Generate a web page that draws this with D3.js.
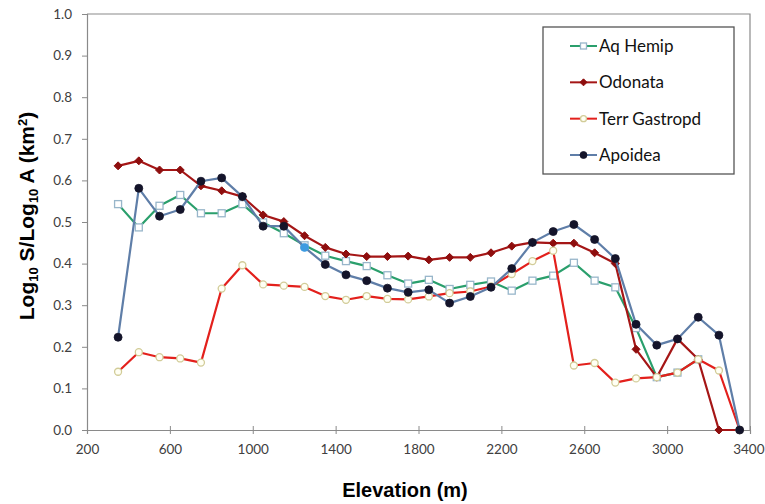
<!DOCTYPE html>
<html>
<head>
<meta charset="utf-8">
<script src="https://cdn.jsdelivr.net/npm/d3@7"></script>
<style>
  body { margin: 0; background: #fff; }
  svg { display: block; }
</style>
</head>
<body>
<div id="chart"></div>
<script>
// elevation band mid-points (m)
const elevation = [350, 450, 550, 650, 750, 850, 950, 1050, 1150, 1250, 1350, 1450, 1550, 1650, 1750,
  1850, 1950, 2050, 2150, 2250, 2350, 2450, 2550, 2650, 2750, 2850, 2950, 3050, 3150, 3250, 3350];

const aqHemip = [0.543, 0.487, 0.539, 0.565, 0.521, 0.521, 0.543, 0.499, 0.473, 0.444, 0.419, 0.406, 0.394, 0.372, 0.352,
  0.361, 0.339, 0.349, 0.357, 0.335, 0.359, 0.371, 0.402, 0.359, 0.343, 0.245, 0.127, 0.138, 0.170, null, null];
const odonata = [0.635, 0.647, 0.625, 0.625, 0.587, 0.575, 0.561, 0.517, 0.501, 0.467, 0.439, 0.423, 0.417, 0.417, 0.418,
  0.409, 0.415, 0.415, 0.426, 0.442, 0.451, 0.449, 0.449, 0.426, 0.400, 0.194, 0.127, 0.219, 0.170, 0, 0];
const terrGastropod = [0.140, 0.187, 0.175, 0.172, 0.162, 0.340, 0.396, 0.350, 0.347, 0.344, 0.322, 0.313, 0.322, 0.315, 0.314,
  0.321, 0.329, 0.333, 0.345, 0.375, 0.406, 0.431, 0.155, 0.161, 0.114, 0.124, 0.127, 0.138, 0.170, 0.143, 0];
const apoidea = [0.223, 0.581, 0.514, 0.530, 0.598, 0.606, 0.561, 0.490, 0.490, 0.439, 0.398, 0.373, 0.359, 0.341, 0.331,
  0.337, 0.305, 0.321, 0.343, 0.388, 0.451, 0.477, 0.494, 0.458, 0.412, 0.254, 0.204, 0.219, 0.271, 0.228, 0];

const seriesNames = ['Aq Hemip', 'Odonata', 'Terr Gastropd', 'Apoidea'];
const seriesValues = [aqHemip, odonata, terrGastropod, apoidea];
const highlightedPoint = { series: 'Apoidea', elevation: 1250 }; // the one light-blue dot

const xTicks = [200, 600, 1000, 1400, 1800, 2200, 2600, 3000, 3400];
const yTicks = [0, 0.1, 0.2, 0.3, 0.4, 0.5, 0.6, 0.7, 0.8, 0.9, 1.0];

// look of each series, same order as seriesNames
const styles = [
  { line: '#2a9f6c', marker: 'square', fill: '#ffffff', stroke: '#98b6ca', size: 7 },
  { line: '#a51616', marker: 'diamond', fill: '#8e0e0e', stroke: '#8e0e0e', size: 8 },
  { line: '#e3201c', marker: 'circle', fill: '#fffff4', stroke: '#d2cc98', size: 7 },
  { line: '#5f7ea8', marker: 'dot', fill: '#14142a', stroke: '#14142a', size: 8 },
];

const width = 765, height = 504;
const plot = { left: 87, right: 750, top: 14, bottom: 430 };
const labelFont = 'Lato, "Open Sans", sans-serif';
const titleFont = 'Arial, "Liberation Sans", sans-serif';

const svg = d3.select('#chart').append('svg').attr('width', width).attr('height', height);

const x = d3.scaleLinear().domain([200, 3400]).range([plot.left, plot.right]);
const y = d3.scaleLinear().domain([0, 1]).range([plot.bottom, plot.top]);

// plot frame: top and right edges
svg.append('path')
  .attr('d', `M${plot.left},${plot.top}H${plot.right}V${plot.bottom}`)
  .attr('fill', 'none').attr('stroke', '#8a8a8a').attr('stroke-width', 1.2);

// axes
const xAxis = svg.append('g')
  .attr('transform', `translate(0,${plot.bottom})`)
  .call(d3.axisBottom(x).tickValues(xTicks).tickSize(4).tickPadding(10).tickFormat(d3.format('d')));
const yAxis = svg.append('g')
  .attr('transform', `translate(${plot.left},0)`)
  .call(d3.axisLeft(y).tickValues(yTicks).tickSize(5).tickPadding(10).tickFormat(d3.format('.1f')));

[xAxis, yAxis].forEach(ax => {
  ax.select('.domain').attr('stroke', '#8a8a8a').attr('stroke-width', 1.2);
  ax.selectAll('.tick line').attr('stroke', '#8a8a8a');
  ax.selectAll('.tick text').attr('fill', '#404040').style('font-family', labelFont).style('font-size', '13.5px');
});
// ticks on the x axis cross the axis line
xAxis.selectAll('.tick line').attr('y1', -4);
// keep the last label inside the picture
xAxis.selectAll('.tick text').filter(d => d === 3400).attr('text-anchor', 'end').attr('x', 14);

// axis titles
svg.append('text')
  .attr('x', 405).attr('y', 497)
  .attr('text-anchor', 'middle')
  .style('font-family', titleFont)
  .style('font-size', '20px').style('font-weight', 'bold')
  .text('Elevation (m)');

const yTitle = svg.append('text')
  .attr('transform', 'translate(34,216) rotate(-90)')
  .attr('text-anchor', 'middle')
  .style('font-family', titleFont)
  .style('font-size', '21px').style('font-weight', 'bold');
yTitle.append('tspan').text('Log');
yTitle.append('tspan').attr('dy', 4).style('font-size', '13px').text('10');
yTitle.append('tspan').attr('dy', -4).text(' S/Log');
yTitle.append('tspan').attr('dy', 4).style('font-size', '13px').text('10');
yTitle.append('tspan').attr('dy', -4).text(' A (km');
yTitle.append('tspan').attr('dy', -7).style('font-size', '13px').text('2');
yTitle.append('tspan').attr('dy', 7).text(')');

// drawMarker()
// appends one marker of the given style centred on (cx, cy)
function drawMarker(g, st, cx, cy, fillOverride) {
  const s = st.size;
  const fill = fillOverride || st.fill;
  if (st.marker === 'square') {
    g.append('rect').attr('x', cx - s / 2).attr('y', cy - s / 2).attr('width', s).attr('height', s)
      .attr('fill', fill).attr('stroke', st.stroke).attr('stroke-width', 1.3);
  } else if (st.marker === 'diamond') {
    g.append('path').attr('d', `M${cx},${cy - s / 2}L${cx + s / 2},${cy}L${cx},${cy + s / 2}L${cx - s / 2},${cy}Z`)
      .attr('fill', fill).attr('stroke', st.stroke);
  } else {
    g.append('circle').attr('cx', cx).attr('cy', cy).attr('r', s / 2)
      .attr('fill', fill).attr('stroke', fillOverride ? fill : st.stroke).attr('stroke-width', st.marker === 'circle' ? 1.3 : 0.8);
  }
}

const line = d3.line()
  .defined(d => d.v != null)
  .x(d => x(d.e))
  .y(d => y(d.v));

const series = seriesNames.map((name, i) => ({
  name: name,
  style: styles[i],
  points: elevation.map((e, j) => ({ e: e, v: seriesValues[i][j] })),
}));

series.forEach(s => {
  const g = svg.append('g');
  g.append('path')
    .datum(s.points)
    .attr('d', line)
    .attr('fill', 'none')
    .attr('stroke', s.style.line)
    .attr('stroke-width', 2.2)
    .attr('stroke-linejoin', 'round');
  s.points.filter(p => p.v != null).forEach(p => {
    const hi = s.name === highlightedPoint.series && p.e === highlightedPoint.elevation;
    drawMarker(g, s.style, x(p.e), y(p.v), hi ? '#3d9be0' : null);
  });
});

// legend
const legend = svg.append('g');
legend.append('rect')
  .attr('x', 543).attr('y', 27).attr('width', 191).attr('height', 147)
  .attr('fill', '#fff').attr('stroke', '#555').attr('stroke-width', 1.3);
const legendY = d3.scalePoint().domain(seriesNames).range([46, 155]);
series.forEach(s => {
  const ly = legendY(s.name);
  legend.append('line').attr('x1', 570).attr('x2', 597).attr('y1', ly).attr('y2', ly)
    .attr('stroke', s.style.line).attr('stroke-width', 2);
  drawMarker(legend, Object.assign({}, s.style, { size: s.style.size - 1 }), 583.5, ly, null);
  legend.append('text')
    .attr('x', 599).attr('y', ly).attr('dy', '0.35em')
    .style('font-family', labelFont).style('font-size', '17px').attr('fill', '#111')
    .text(s.name);
});
</script>
</body>
</html>
